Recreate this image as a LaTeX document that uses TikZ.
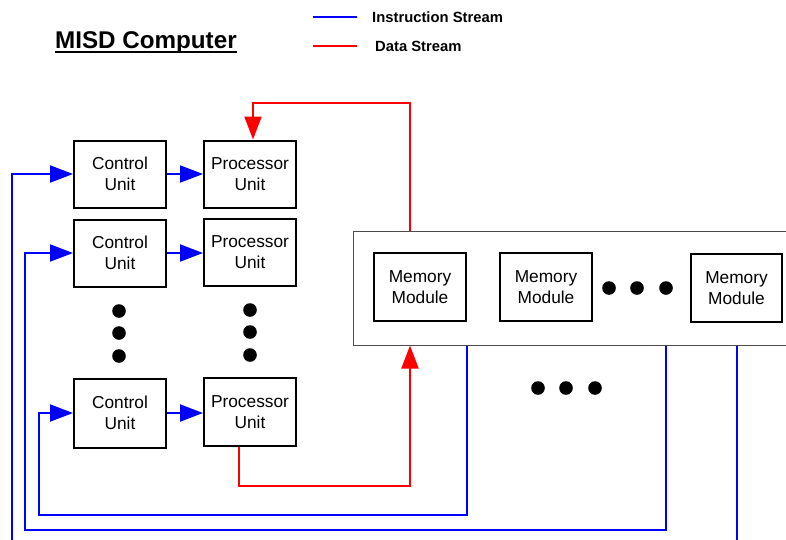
\documentclass[tikz,border=0pt]{standalone}
\usepackage{fontspec}
\setmainfont{Liberation Sans}
\usetikzlibrary{arrows.meta}
\begin{document}
\begin{tikzpicture}[x=1pt,y=-1pt,
  unitbox/.style={draw, line width=2pt, minimum width=92pt, minimum height=67pt, inner sep=0pt, align=center, font=\fontsize{17.3}{21}\selectfont},
  instr/.style={draw=blue, line width=2pt},
  data/.style={draw=red, line width=2pt},
  tip/.style={-{Triangle[length=23pt,width=17pt]}}]
 \clip (0,0) rectangle (786,539);
 % title and legend
 \node[inner sep=0pt, anchor=base west, font=\fontsize{24.2}{27}\selectfont\bfseries] (title) at (55,48) {MISD Computer};
 \draw[line width=1.8pt] ([yshift=-4pt]title.base west) -- ([yshift=-4pt]title.base east);
 \coordinate (legi) at (313,17);
 \coordinate (legd) at (313,46);
 \draw[instr] (legi) -- ++(44,0);
 \draw[data] (legd) -- ++(44,0);
 \node[anchor=west, inner sep=0pt, font=\fontsize{14.8}{16}\selectfont\bfseries] (legitext) at (372,17) {Instruction Stream};
 \node[anchor=west, inner sep=0pt, font=\fontsize{14.8}{16}\selectfont\bfseries] (legdtext) at (375,46) {Data Stream};
 % control and processor units
 \node[unitbox] (c1) at (120,174) {Control\\Unit};
 \node[unitbox] (p1) at (250,174) {Processor\\Unit};
 \node[unitbox] (c2) at (120,253) {Control\\Unit};
 \node[unitbox] (p2) at (250,252) {Processor\\Unit};
 \node[unitbox, minimum height=69pt] (c3) at (120,413) {Control\\Unit};
 \node[unitbox, minimum height=68pt] (p3) at (250,412) {Processor\\Unit};
 \fill (119,311) circle (6.8);
 \fill (119,333) circle (6.8);
 \fill (119,356) circle (6.8);
 \fill (250,310) circle (6.8);
 \fill (250,332) circle (6.8);
 \fill (250,355) circle (6.8);
 % memory
 \node[draw=black!70, line width=1pt, minimum width=447pt, minimum height=114pt, inner sep=0pt] (memsys) at (576.5,288) {};
 \node[unitbox, minimum height=68pt] (m1) at (420,287) {Memory\\Module};
 \node[unitbox, minimum height=68pt] (m2) at (546,287) {Memory\\Module};
 \node[unitbox, minimum width=91pt, minimum height=68pt] (m3) at (736.5,288) {Memory\\Module};
 \fill (609,288) circle (6.8);
 \fill (637,288) circle (6.8);
 \fill (666,288) circle (6.8);
 \fill (538,388) circle (6.8);
 \fill (566,388) circle (6.8);
 \fill (595,388) circle (6.8);
 % instruction streams
 \draw[instr, tip] (c1.east) -- (p1.west |- c1.east);
 \draw[instr, tip] (c2.east) -- (p2.west |- c2.east);
 \draw[instr, tip] (c3.east) -- (p3.west |- c3.east);
 \coordinate (loopa) at (12,560);
 \coordinate (tapb) at (666,530);
 \coordinate (loopb) at (25,530);
 \coordinate (tapc) at (467,515);
 \coordinate (loopc) at (39,515);
 \draw[instr, tip] (m3.south |- memsys.south) |- (loopa) |- (c1.west);
 \draw[instr, tip] (tapb |- memsys.south) -- (tapb) -- (loopb) |- (c2.west);
 \draw[instr, tip] (tapc |- memsys.south) -- (tapc) -- (loopc) |- (c3.west);
 % data streams
 \coordinate (dtop) at (410,103);
 \coordinate (dbot) at (410,486);
 \draw[data, tip] (dtop |- memsys.north) -- (dtop) -| ([xshift=3pt]p1.north);
 \draw[data, tip] ([xshift=-11pt]p3.south) |- (dbot) -- (dbot |- memsys.south);
\end{tikzpicture}
\end{document}
